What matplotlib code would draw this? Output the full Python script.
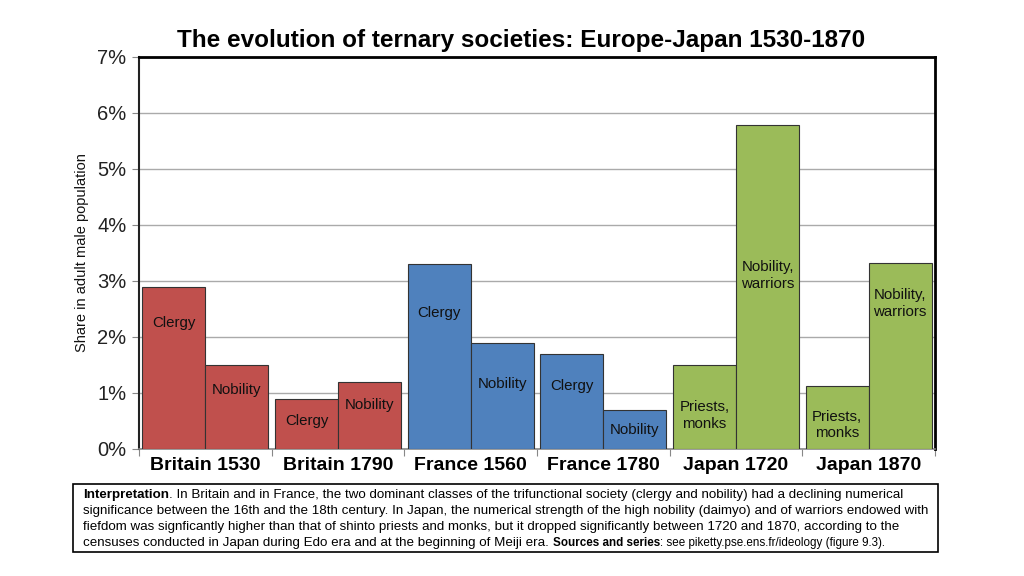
import matplotlib
matplotlib.use("Agg")
import matplotlib.pyplot as plt
from matplotlib.patches import Rectangle

# ---- data ----
groups = ["Britain 1530", "Britain 1790", "France 1560", "France 1780", "Japan 1720", "Japan 1870"]
first_labels = ["Clergy", "Clergy", "Clergy", "Clergy", "Priests,\nmonks", "Priests,\nmonks"]
second_labels = ["Nobility", "Nobility", "Nobility", "Nobility", "Nobility,\nwarriors", "Nobility,\nwarriors"]
first_values = [2.9, 0.9, 3.3, 1.7, 1.5, 1.13]
second_values = [1.5, 1.2, 1.9, 0.7, 5.78, 3.32]
first_label_y = [2.25, 0.5, 2.43, 1.12, 0.6, 0.43]
second_label_y = [1.05, 0.78, 1.16, 0.34, 3.1, 2.6]
group_colors = ["#C0504D", "#C0504D", "#4F81BD", "#4F81BD", "#9BBB59", "#9BBB59"]
y_ticks = [0, 1, 2, 3, 4, 5, 6, 7]
y_ticklabels = ["0%", "1%", "2%", "3%", "4%", "5%", "6%", "7%"]

title = "The evolution of ternary societies: Europe-Japan 1530-1870"
ylabel = "Share in adult male population"

plt.rcParams["font.family"] = ["Liberation Sans", "DejaVu Sans"]

fig = plt.figure(figsize=(10.24, 5.76), dpi=100)
ax = fig.add_axes([139/1024, 1 - 449/576, 796/1024, 392/576])

bw = 0.475
for i in range(len(groups)):
    c = i + 0.5
    ax.bar(c - bw/2, first_values[i], width=bw, color=group_colors[i], edgecolor="#333333", linewidth=0.8, zorder=3)
    ax.bar(c + bw/2, second_values[i], width=bw, color=group_colors[i], edgecolor="#333333", linewidth=0.8, zorder=3)
    ax.text(c - bw/2, first_label_y[i], first_labels[i], ha="center", va="center", fontsize=10.8, color="#111111", zorder=4, linespacing=1.25)
    ax.text(c + bw/2, second_label_y[i], second_labels[i], ha="center", va="center", fontsize=10.8, color="#111111", zorder=4, linespacing=1.25)

ax.set_xlim(0, 6)
ax.set_ylim(0, 7)
ax.set_yticks(y_ticks)
ax.set_yticklabels(y_ticklabels, fontsize=14.5, color="#222222")
ax.set_xticks([i for i in range(7)])
ax.set_xticklabels([])
ax.set_xticks([i + 0.5 for i in range(6)], minor=True)
ax.set_xticklabels(groups, minor=True, fontsize=14, fontweight="bold", color="black")
ax.tick_params(axis="x", which="minor", length=0, pad=6)
ax.tick_params(axis="x", which="major", length=5, color="#888888", direction="out")
ax.tick_params(axis="y", length=5, color="#888888", direction="out", pad=4)
ax.yaxis.grid(True, color="#aaaaaa", linewidth=1.0, zorder=0)
ax.set_axisbelow(True)

ax.spines["top"].set_color("black")
ax.spines["top"].set_linewidth(2)
ax.spines["right"].set_color("black")
ax.spines["right"].set_linewidth(2)
ax.spines["left"].set_color("#222222")
ax.spines["left"].set_linewidth(1.5)
ax.spines["bottom"].set_color("#888888")
ax.spines["bottom"].set_linewidth(1.2)

ax.set_ylabel(ylabel, fontsize=10.5, labelpad=6, color="#111111")
fig.text(521/1024, 1 - 41/576, title, ha="center", va="center", fontsize=17.5, fontweight="bold")

# ---- caption box ----
fig.patches.append(Rectangle((73/1024, 1 - 552/576), (938-73)/1024, (552-484)/576,
                             transform=fig.transFigure, fill=False, edgecolor="black", linewidth=1.2))

cap_family = ["Liberation Sans Narrow", "Liberation Sans", "DejaVu Sans"]
cap_size = 9.6
x0 = 83/1024
line_y = [495, 511, 527, 543]
fig.canvas.draw()
renderer = fig.canvas.get_renderer()

def put(x, y, s, bold=False, size=cap_size):
    t = fig.text(x, 1 - y/576, s, ha="left", va="center", fontsize=size,
                 fontweight="bold" if bold else "normal", family=cap_family)
    bb = t.get_window_extent(renderer=renderer)
    return x + bb.width / fig.bbox.width

x = put(x0, line_y[0], "Interpretation", bold=True)
put(x, line_y[0], ". In Britain and in France, the two dominant classes of the trifunctional society (clergy and nobility) had a declining numerical")
put(x0, line_y[1], "significance between the 16th and the 18th century. In Japan, the numerical strength of the high nobility (daimyo) and of warriors endowed with")
put(x0, line_y[2], "fiefdom was signficantly higher than that of shinto priests and monks, but it dropped significantly between 1720 and 1870, according to the")
x = put(x0, line_y[3], "censuses conducted in Japan during Edo era and at the beginning of Meiji era. ")
x = put(x, line_y[3], "Sources and series", bold=True, size=8.4)
put(x, line_y[3], ": see piketty.pse.ens.fr/ideology (figure 9.3).", size=8.4)

fig.savefig("out.png", dpi=100)
